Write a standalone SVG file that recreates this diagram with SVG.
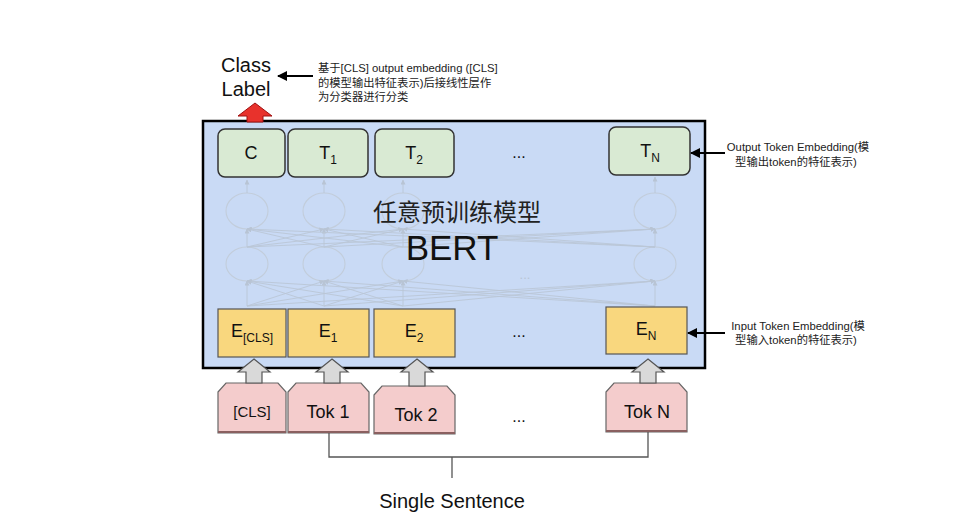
<svg xmlns="http://www.w3.org/2000/svg" width="960" height="522" viewBox="0 0 960 522">
<defs>
<marker id="ah" viewBox="0 0 10 10" refX="9" refY="5" markerWidth="10" markerHeight="10" markerUnits="userSpaceOnUse" orient="auto"><path d="M0,0 L10,5 L0,10 Z" fill="#000"/></marker>
<marker id="fa" viewBox="0 0 10 10" refX="9" refY="5" markerWidth="5" markerHeight="5" markerUnits="userSpaceOnUse" orient="auto"><path d="M0,0 L10,5 L0,10 Z" fill="#b8c4d4"/></marker>
</defs>
<style>
text{font-family:"Liberation Sans","Noto Sans CJK SC",sans-serif;fill:#111}
.t{fill:#d9ead3;stroke:#333;stroke-width:1.5}
.e{fill:#f9d77e;stroke:#555;stroke-width:1.2}
.k{fill:#f4cccc;stroke:#666;stroke-width:1.2}
.kb{stroke:#8a6060;stroke-width:2}
.g{fill:#d9d9d9;stroke:#555;stroke-width:1.2}
.lbl{font-size:18px;text-anchor:middle}
.sub{font-size:12px}
.note{font-size:11.3px;fill:#222}
.net{fill:none;stroke:#bac6d6;stroke-width:0.9}
.ell{fill:none;stroke:#c2cddb;stroke-width:1.1}
.con{fill:none;stroke:#555;stroke-width:1.3}
</style>
<rect width="960" height="522" fill="#fff"/>
<g id="bert">
<rect x="203" y="121" width="502" height="247" fill="#c9daf5" stroke="#000" stroke-width="2.5"/>
</g>
<g id="network">
<g class="ell">
<ellipse cx="247" cy="211" rx="21" ry="18"/>
<ellipse cx="324" cy="211" rx="21" ry="18"/>
<ellipse cx="403" cy="211" rx="21" ry="18"/>
<ellipse cx="655" cy="211" rx="21" ry="18"/>
<ellipse cx="247" cy="264" rx="21" ry="17"/>
<ellipse cx="324" cy="264" rx="21" ry="17"/>
<ellipse cx="403" cy="264" rx="21" ry="17"/>
<ellipse cx="655" cy="264" rx="21" ry="17"/>
</g>
<g class="net" marker-end="url(#fa)">
<line x1="247" y1="193" x2="247" y2="180"/>
<line x1="324" y1="193" x2="324" y2="180"/>
<line x1="403" y1="193" x2="403" y2="180"/>
<line x1="655" y1="193" x2="655" y2="177"/>
<line x1="247" y1="247" x2="247" y2="229"/>
<line x1="247" y1="247" x2="324" y2="229"/>
<line x1="247" y1="247" x2="403" y2="229"/>
<line x1="247" y1="247" x2="655" y2="229"/>
<line x1="324" y1="247" x2="247" y2="229"/>
<line x1="324" y1="247" x2="324" y2="229"/>
<line x1="324" y1="247" x2="403" y2="229"/>
<line x1="324" y1="247" x2="655" y2="229"/>
<line x1="403" y1="247" x2="247" y2="229"/>
<line x1="403" y1="247" x2="324" y2="229"/>
<line x1="403" y1="247" x2="403" y2="229"/>
<line x1="403" y1="247" x2="655" y2="229"/>
<line x1="655" y1="247" x2="247" y2="229"/>
<line x1="655" y1="247" x2="324" y2="229"/>
<line x1="655" y1="247" x2="403" y2="229"/>
<line x1="655" y1="247" x2="655" y2="229"/>
<line x1="247" y1="306" x2="247" y2="281"/>
<line x1="247" y1="306" x2="324" y2="281"/>
<line x1="247" y1="306" x2="403" y2="281"/>
<line x1="247" y1="306" x2="655" y2="281"/>
<line x1="324" y1="306" x2="247" y2="281"/>
<line x1="324" y1="306" x2="324" y2="281"/>
<line x1="324" y1="306" x2="403" y2="281"/>
<line x1="324" y1="306" x2="655" y2="281"/>
<line x1="403" y1="306" x2="247" y2="281"/>
<line x1="403" y1="306" x2="324" y2="281"/>
<line x1="403" y1="306" x2="403" y2="281"/>
<line x1="403" y1="306" x2="655" y2="281"/>
<line x1="655" y1="306" x2="247" y2="281"/>
<line x1="655" y1="306" x2="324" y2="281"/>
<line x1="655" y1="306" x2="403" y2="281"/>
<line x1="655" y1="306" x2="655" y2="281"/>
</g>
<text x="525" y="279" text-anchor="middle" style="font-size:13px;fill:#b8c4d4">...</text>
</g>
<g id="title">
<text x="457" y="221" text-anchor="middle" style="font-size:24px;fill:#222">任意预训练模型</text>
<text x="452" y="260" text-anchor="middle" style="font-size:35px;fill:#111">BERT</text>
</g>
<g id="out-C"><rect class="t" x="218" y="129" width="67" height="48" rx="7"/><text class="lbl" x="251" y="159">C</text></g>
<g id="out-T1"><rect class="t" x="288" y="129" width="80" height="48" rx="7"/><text class="lbl" x="328" y="159">T<tspan class="sub" dy="5">1</tspan></text></g>
<g id="out-T2"><rect class="t" x="375" y="129" width="79" height="48" rx="7"/><text class="lbl" x="414" y="159">T<tspan class="sub" dy="5">2</tspan></text></g>
<g id="out-dots"><text class="lbl" x="519" y="158" style="font-size:16px">...</text></g>
<g id="out-TN"><rect class="t" x="609" y="127" width="81" height="48" rx="7"/><text class="lbl" x="650" y="157">T<tspan class="sub" dy="5">N</tspan></text></g>
<g id="emb-CLS"><rect class="e" x="218" y="309" width="68" height="48"/><text class="lbl" x="252" y="337">E<tspan class="sub" dy="5">[CLS]</tspan></text></g>
<g id="emb-E1"><rect class="e" x="288" y="309" width="81" height="48"/><text class="lbl" x="328" y="337">E<tspan class="sub" dy="5">1</tspan></text></g>
<g id="emb-E2"><rect class="e" x="374" y="309" width="81" height="48"/><text class="lbl" x="414" y="337">E<tspan class="sub" dy="5">2</tspan></text></g>
<g id="emb-dots"><text class="lbl" x="519" y="337" style="font-size:16px">...</text></g>
<g id="emb-EN"><rect class="e" x="606" y="307" width="81" height="47"/><text class="lbl" x="646" y="335">E<tspan class="sub" dy="5">N</tspan></text></g>
<g id="tok-CLS"><path class="k" d="M218,392 L226,383 L278,383 L286,392 L286,433 L218,433 Z"/><line class="kb" x1="218" y1="432" x2="286" y2="432"/><text class="lbl" x="252" y="417" style="font-size:15px">[CLS]</text></g>
<g id="tok-1"><path class="k" d="M288,392 L296,383 L361,383 L369,392 L369,433 L288,433 Z"/><line class="kb" x1="288" y1="432" x2="369" y2="432"/><text class="lbl" x="328" y="418">Tok 1</text></g>
<g id="tok-2"><path class="k" d="M374,395 L382,386 L447,386 L455,395 L455,434 L374,434 Z"/><line class="kb" x1="374" y1="433" x2="455" y2="433"/><text class="lbl" x="416" y="421">Tok 2</text></g>
<g id="tok-dots"><text class="lbl" x="519" y="422" style="font-size:16px">...</text></g>
<g id="tok-N"><path class="k" d="M606,392 L614,383 L679,383 L687,392 L687,432 L606,432 Z"/><line class="kb" x1="606" y1="431" x2="687" y2="431"/><text class="lbl" x="647" y="418">Tok N</text></g>
<g id="class-label"><text x="246" y="72" text-anchor="middle" style="font-size:20px">Class</text><text x="246" y="96" text-anchor="middle" style="font-size:20px">Label</text></g>
<g id="note-cls"><text class="note" x="318" y="72">基于[CLS] output embedding ([CLS]</text><text class="note" x="318" y="87">的模型输出特征表示)后接线性层作</text><text class="note" x="318" y="101">为分类器进行分类</text></g>
<g id="note-out"><text class="note" x="798" y="151" text-anchor="middle">Output Token Embedding(模</text><text class="note" x="796" y="166" text-anchor="middle">型输出token的特征表示)</text></g>
<g id="note-in"><text class="note" x="798" y="330" text-anchor="middle">Input Token Embedding(模</text><text class="note" x="796" y="344" text-anchor="middle">型输入token的特征表示)</text></g>
<g id="sentence"><text x="452" y="508" text-anchor="middle" style="font-size:20px">Single Sentence</text></g>
<g id="connectors">
<path d="M255,103 L272,116 L263,116 L263,122 L247,122 L247,116 L238,116 Z" fill="#e8322c" stroke="#a01010" stroke-width="1"/>
<path class="g" d="M254,359 L270,372 L262,372 L262,383 L246,383 L246,372 L238,372 Z"/>
<path class="g" d="M332,359 L348,372 L340,372 L340,383 L324,383 L324,372 L316,372 Z"/>
<path class="g" d="M417,359 L433,372 L425,372 L425,386 L409,386 L409,372 L401,372 Z"/>
<path class="g" d="M648,359 L664,372 L656,372 L656,383 L640,383 L640,372 L632,372 Z"/>
<line x1="313" y1="76" x2="278" y2="76" stroke="#000" stroke-width="2" marker-end="url(#ah)"/>
<line x1="725" y1="153" x2="691" y2="153" stroke="#000" stroke-width="2" marker-end="url(#ah)"/>
<line x1="725" y1="333" x2="688" y2="333" stroke="#000" stroke-width="2" marker-end="url(#ah)"/>
<path class="con" d="M329,433 L329,457 L648,457 L648,432"/>
<line class="con" x1="452" y1="457" x2="452" y2="478"/>
</g>
</svg>
